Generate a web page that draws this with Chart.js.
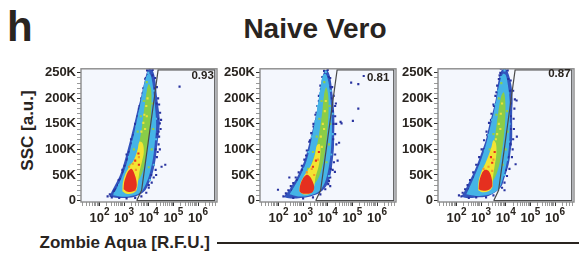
<!DOCTYPE html>
<html>
<head>
<meta charset="utf-8">
<script src="https://cdn.jsdelivr.net/npm/chart.js@4.4.0/dist/chart.umd.min.js"></script>
<style>
    html, body { margin: 0; padding: 0; background: #fff; }
    body { width: 579px; height: 254px; position: relative; overflow: hidden;
           font-family: "Liberation Sans", Arial, sans-serif; font-weight: bold; color: #29241f; }
    .txt { position: absolute; line-height: 1; white-space: nowrap; }
    canvas { position: absolute; top: 60px; }
</style>
</head>
<body>
<div class="txt" style="left:7px;top:6px;font-size:42px">h</div>
<div class="txt" style="left:315px;top:14.6px;font-size:28px;transform:translateX(-50%)">Naive Vero</div>
<div class="txt" style="left:-33.3px;top:121.5px;width:120px;text-align:center;font-size:17px;transform:rotate(-90deg)">SSC [a.u.]</div>
<div class="txt" style="left:39.5px;top:234px;font-size:17px">Zombie Aqua [R.F.U.]</div>
<div style="position:absolute;left:217px;top:241.6px;width:362px;height:2.3px;background:#29241f"></div>

<canvas id="panel1" width="184" height="170" style="left:37px"></canvas>
<canvas id="panel2" width="184" height="170" style="left:216px"></canvas>
<canvas id="panel3" width="184" height="170" style="left:394px"></canvas>

<script>
// points are [log10 Zombie Aqua (R.F.U.), SSC in thousands]
const decades = [2, 3, 4, 5, 6];
const sscTicks = [0, 50, 100, 150, 200, 250];
const sscTickLabels = ["0", "50K", "100K", "150K", "200K", "250K"];
const gateFractions = ["0.93", "0.81", "0.87"];
const gateLabelAt = [[6.64, 238], [6.5, 235], [6.63, 241]];
const liveGate = [[3.51, -0.5], [3.71, 20], [4.38, 256], [6.68, 256], [6.68, -0.5], [3.51, -0.5]];

// panel 1 - density contours
const p1Blue = [[2.4,7],[2.5,18],[2.65,32],[2.85,52],[3.02,78],[3.16,103],[3.3,129],[3.43,154],[3.56,180],[3.7,205],[3.82,231],[3.95,254],[4.08,258],[4.2,250],[4.28,231],[4.33,205],[4.4,180],[4.45,154],[4.4,129],[4.33,103],[4.27,78],[4.15,52],[4.0,33],[3.8,17],[3.4,7],[2.9,5]];
const p1Cyan = [[2.55,10],[2.7,24],[2.9,45],[3.1,72],[3.25,100],[3.4,130],[3.53,160],[3.66,190],[3.78,220],[3.92,245],[4.05,248],[4.15,230],[4.22,200],[4.28,170],[4.3,145],[4.25,115],[4.18,85],[4.05,55],[3.88,32],[3.65,15],[3.2,8],[2.8,8]];
const p1Green = [[3.2,45],[3.45,80],[3.62,115],[3.74,150],[3.83,185],[3.92,215],[4.0,228],[4.1,215],[4.1,180],[4.05,145],[3.98,110],[3.85,75],[3.65,45],[3.4,35]];
const p1Yellow = [[2.93,18],[2.95,35],[3.05,52],[3.22,66],[3.4,80],[3.55,100],[3.62,115],[3.75,112],[3.8,95],[3.72,75],[3.62,55],[3.56,35],[3.5,20],[3.35,14],[3.1,13]];
const p1Red = [[2.98,22],[3.0,35],[3.08,48],[3.18,58],[3.3,62],[3.42,52],[3.5,38],[3.5,25],[3.38,18],[3.15,17]];
// panel 1 - single events
const p1Navy = [[2.33,8],[2.42,12],[2.5,6],[2.58,17],[2.66,22],[2.75,30],[2.85,42],[2.95,55],[3.02,68],[3.12,80],[3.2,95],[3.3,112],[3.38,128],[3.47,145],[3.55,165],[3.63,185],[3.7,200],[3.78,220],[3.86,238],[3.93,255],[4.02,258],[4.16,256],[4.26,240],[4.33,222],[4.38,200],[4.42,188],[4.46,172],[4.5,158],[4.45,151],[4.48,140],[4.42,125],[4.4,110],[4.36,95],[4.33,85],[4.52,66],[4.67,70],[4.28,60],[4.2,45],[4.12,35],[4.0,25],[3.9,15],[3.7,8],[3.45,5],[3.1,4],[2.8,5],[5.25,223],[4.4,135],[4.3,50],[4.45,100],
    [2.6,20],[2.78,40],[2.93,60],[3.1,90],[3.28,120],[3.45,150],[3.6,180],[3.75,210],[3.88,240],[4.0,30],[4.1,50],[4.2,70],[4.28,100],[4.35,130],[4.38,160],[4.32,190],[4.25,220],[4.15,245]];
const p1CyanSpecks = [[2.62,14],[2.8,30],[3.0,50],[3.2,85],[3.35,115],[3.5,145],[3.62,170],[3.75,200],[3.85,225],[3.98,250],[4.2,215],[4.3,160],[4.3,120],[4.2,70],[4.05,40]];
const p1GreenSpecks = [[3.1,40],[3.25,70],[3.4,100],[3.55,135],[3.68,165],[3.8,195],[3.92,232],[4.15,190],[4.18,140],[4.12,100],[4.0,65]];
const p1YellowSpecks = [[3.7,135],[3.78,152],[3.82,168],[3.9,185],[3.95,200],[3.85,140],[3.92,165]];
const p1OrangeSpecks = [[3.2,66],[3.35,72],[3.48,60],[3.6,85],[3.1,20],[3.45,20]];
const p1RedSpecks = [[3.45,78],[3.58,92],[3.6,70]];

// panel 2 - density contours
const p2Blue = [[2.2,7],[2.35,15],[2.55,30],[2.8,50],[3.05,78],[3.2,103],[3.33,128],[3.46,154],[3.58,180],[3.66,205],[3.74,230],[3.85,252],[3.96,256],[4.08,245],[4.14,230],[4.2,205],[4.25,180],[4.27,154],[4.26,128],[4.25,103],[4.2,78],[4.12,52],[4.0,33],[3.7,16],[3.3,8],[2.9,5],[2.5,4]];
const p2Cyan = [[2.45,12],[2.65,28],[2.9,50],[3.12,75],[3.28,105],[3.4,135],[3.52,165],[3.62,195],[3.7,220],[3.8,245],[3.92,248],[4.03,232],[4.1,205],[4.15,175],[4.17,145],[4.15,115],[4.1,85],[4.0,55],[3.85,32],[3.6,16],[3.2,9],[2.8,8]];
const p2Green = [[3.1,40],[3.35,72],[3.55,105],[3.68,140],[3.78,175],[3.86,210],[3.94,222],[4.02,205],[4.03,170],[3.98,135],[3.9,100],[3.78,68],[3.6,42],[3.35,30]];
const p2Yellow = [[2.85,18],[2.88,32],[3.0,45],[3.18,58],[3.35,72],[3.48,90],[3.56,108],[3.68,110],[3.7,90],[3.62,65],[3.5,45],[3.45,28],[3.3,14],[3.0,12]];
const p2Red = [[2.85,18],[2.88,30],[2.98,42],[3.12,50],[3.25,48],[3.38,38],[3.45,25],[3.35,15],[3.1,13],[2.95,14]];
// panel 2 - single events
const p2Navy = [[1.98,21],[2.44,45],[2.2,8],[2.3,14],[2.4,20],[2.5,28],[2.6,34],[2.7,45],[2.82,55],[2.95,68],[3.05,80],[3.15,98],[3.25,115],[3.33,132],[3.42,150],[3.5,168],[3.58,185],[3.64,205],[3.7,225],[3.78,242],[3.85,254],[4.0,256],[4.1,240],[4.18,222],[4.24,205],[4.3,185],[4.33,190],[4.3,165],[4.34,150],[4.3,130],[4.52,154],[4.46,113],[4.4,78],[4.29,56],[4.1,28],[4.35,110],[4.3,90],[4.25,75],[4.2,60],[4.1,45],[4.02,32],[3.9,22],[3.7,12],[3.4,6],[3.0,4],[2.6,5],[4.95,231],[5.24,228],[5.24,180],[5.02,156],[4.56,151],[5.46,244],
    [2.55,20],[2.75,40],[2.95,60],[3.12,88],[3.28,118],[3.42,145],[3.54,172],[3.64,195],[3.72,218],[3.82,240],[4.05,38],[4.12,62],[4.18,90],[4.22,120],[4.24,150],[4.2,175],[4.15,200],[4.1,222],[4.03,242]];
const p2CyanSpecks = [[2.6,16],[2.85,38],[3.05,62],[3.22,95],[3.36,125],[3.5,155],[3.6,185],[3.7,210],[3.8,235],[3.92,252],[4.12,215],[4.2,170],[4.2,130],[4.15,90],[4.05,48]];
const p2GreenSpecks = [[3.0,38],[3.2,62],[3.4,95],[3.55,125],[3.66,160],[3.75,195],[3.86,232],[4.08,185],[4.1,150],[4.05,110],[3.95,75]];
const p2YellowSpecks = [[3.72,125],[3.8,150],[3.88,175],[3.92,195],[3.76,105],[3.85,140]];
const p2OrangeSpecks = [[3.15,55],[3.35,62],[3.45,50],[3.6,80],[3.0,18],[3.4,22]];
const p2RedSpecks = [[3.4,66],[3.52,78],[3.64,95]];

// panel 3 - density contours
const p3Blue = [[2.2,8],[2.35,20],[2.5,35],[2.75,60],[3.0,92],[3.2,120],[3.33,148],[3.47,173],[3.6,200],[3.68,228],[3.82,254],[3.97,259],[4.08,252],[4.22,228],[4.28,200],[4.26,173],[4.26,148],[4.26,122],[4.2,97],[4.12,71],[3.95,45],[3.8,26],[3.3,9],[2.8,6],[2.4,5]];
const p3Cyan = [[2.4,12],[2.55,28],[2.75,50],[3.0,80],[3.2,110],[3.35,140],[3.5,170],[3.63,200],[3.74,228],[3.88,248],[4.0,246],[4.1,222],[4.16,195],[4.17,165],[4.16,135],[4.12,100],[4.02,70],[3.88,42],[3.7,22],[3.3,11],[2.8,9]];
const p3Green = [[3.05,40],[3.3,75],[3.5,110],[3.62,145],[3.72,180],[3.82,205],[3.92,212],[3.98,195],[3.98,160],[3.92,125],[3.82,90],[3.68,60],[3.5,40],[3.25,32]];
const p3Yellow = [[2.88,20],[2.9,38],[3.0,55],[3.15,70],[3.3,88],[3.42,105],[3.5,118],[3.6,112],[3.62,92],[3.55,68],[3.48,45],[3.45,26],[3.3,18],[3.05,16]];
const p3Red = [[2.9,22],[2.93,38],[3.02,52],[3.15,60],[3.3,58],[3.42,45],[3.45,30],[3.35,22],[3.1,19]];
// panel 3 - single events
const p3Navy = [[2.1,10],[2.2,8],[2.25,15],[2.35,22],[2.45,30],[2.55,40],[2.68,55],[2.8,70],[2.92,85],[3.02,100],[3.12,118],[3.22,135],[3.32,152],[3.42,170],[3.5,188],[3.58,205],[3.65,225],[3.75,245],[3.8,258],[3.95,260],[4.08,255],[4.2,235],[4.3,215],[4.37,198],[4.44,196],[4.35,180],[4.32,160],[4.33,140],[4.3,120],[4.28,100],[4.25,85],[4.4,71],[4.15,62],[4.05,48],[3.95,35],[3.95,20],[3.85,25],[3.5,10],[3.2,6],[2.8,6],[2.5,5],[3.78,250],[4.45,125],[4.2,110],
    [2.5,22],[2.7,45],[2.9,70],[3.1,100],[3.25,128],[3.4,158],[3.52,185],[3.62,212],[3.72,238],[3.85,45],[4.0,60],[4.1,85],[4.18,112],[4.2,140],[4.2,165],[4.2,190],[4.18,215],[4.1,238]];
const p3CyanSpecks = [[2.55,18],[2.75,38],[2.95,68],[3.15,98],[3.3,128],[3.45,158],[3.58,188],[3.7,215],[3.82,242],[3.95,255],[4.1,210],[4.15,150],[4.12,115],[4.05,80],[3.95,50]];
const p3GreenSpecks = [[2.95,40],[3.15,68],[3.35,100],[3.5,130],[3.62,168],[3.72,200],[3.82,230],[4.05,175],[4.08,135],[4.0,100],[3.88,70]];
const p3YellowSpecks = [[3.65,130],[3.72,150],[3.8,170],[3.85,190],[3.6,120],[3.78,140]];
const p3OrangeSpecks = [[3.1,62],[3.3,66],[3.45,58],[3.5,80],[3.0,22],[3.42,28]];
const p3RedSpecks = [[3.45,74],[3.55,95],[3.4,85]];

const ink = "#29241f";
const fontFamily = '"Liberation Sans", Arial, sans-serif';

function toXY(points) {
    return points.map(p => ({ x: Math.pow(10, p[0]), y: p[1] }));
}
function closed(points) {
    return toXY(points.concat([points[0]]));
}
function isDecade(v) {
    let l = Math.log10(v);
    return Math.abs(l - Math.round(l)) < 1e-6;
}

function contour(points, color, order) {
    return {
        type: "line",
        data: closed(points),
        backgroundColor: color,
        borderColor: "rgba(0,0,0,0)",
        borderWidth: 0,
        pointRadius: 0,
        fill: "shape",
        tension: 0.35,
        order: order
    };
}

function events(points, color, order) {
    return {
        type: "scatter",
        data: toXY(points),
        pointStyle: "rect",
        pointRadius: 1.5,
        backgroundColor: color,
        borderWidth: 0,
        order: order
    };
}

const panelDecor = {
    id: "panelDecor",
    beforeDatasetsDraw(chart) {
        const { ctx, chartArea } = chart;
        ctx.save();
        ctx.fillStyle = "#f4f7fd";
        ctx.fillRect(chartArea.left, chartArea.top, chartArea.width, chartArea.height);
        ctx.restore();
    },
    afterDatasetsDraw(chart, args, opts) {
        const { ctx, chartArea, scales } = chart;
        ctx.save();
        ctx.strokeStyle = "#8a8a8a";
        ctx.lineWidth = 1.4;
        ctx.strokeRect(chartArea.left, chartArea.top, chartArea.width, chartArea.height);

        ctx.fillStyle = ink;
        ctx.font = "bold 11.5px " + fontFamily;
        ctx.textAlign = "right";
        ctx.textBaseline = "alphabetic";
        ctx.fillText(opts.fraction,
            scales.x.getPixelForValue(Math.pow(10, opts.labelAt[0])),
            scales.y.getPixelForValue(opts.labelAt[1]));
        ctx.restore();
    },
    afterDraw(chart) {
        const { ctx, chartArea, scales } = chart;
        ctx.save();
        ctx.fillStyle = ink;
        ctx.textAlign = "left";
        ctx.textBaseline = "alphabetic";
        decades.forEach(function (e) {
            let px = scales.x.getPixelForValue(Math.pow(10, e));
            ctx.font = "bold 13px " + fontFamily;
            let wBase = ctx.measureText("10").width;
            ctx.font = "bold 10px " + fontFamily;
            let wExp = ctx.measureText(String(e)).width;
            let left = px - (wBase + wExp) / 2;
            ctx.font = "bold 13px " + fontFamily;
            ctx.fillText("10", left, chartArea.bottom + 20);
            ctx.font = "bold 10px " + fontFamily;
            ctx.fillText(String(e), left + wBase, chartArea.bottom + 13);
        });
        ctx.restore();
    }
};

function makePanel(canvasId, p, fraction, labelAt) {
    let context = document.getElementById(canvasId).getContext("2d");
    return new Chart(context, {
        type: "scatter",
        data: {
            datasets: [
                {
                    type: "line",
                    data: toXY(liveGate),
                    borderColor: "#4a4a4a",
                    borderWidth: 1.2,
                    pointRadius: 0,
                    fill: false,
                    tension: 0,
                    order: 0
                },
                events(p.redSpecks, "#e5301f", 1.5),
                contour(p.red, "#e5301f", 2),
                events(p.orangeSpecks, "#f29a2a", 2.5),
                contour(p.yellow, "#f3e433", 3),
                events(p.yellowSpecks, "#eee23a", 3.5),
                contour(p.green, "#8acd48", 4),
                events(p.greenSpecks, "#8fd04c", 4.5),
                contour(p.cyan, "#45b4e6", 5),
                events(p.cyanSpecks, "#52bdea", 5.5),
                events(p.navy, "#28339f", 6),
                contour(p.blue, "#3254bd", 7)
            ]
        },
        options: {
            responsive: false,
            animation: false,
            events: [],
            layout: { padding: { top: 6, right: 2, left: 0, bottom: 0 } },
            plugins: {
                legend: { display: false },
                tooltip: { enabled: false },
                panelDecor: { fraction: fraction, labelAt: labelAt }
            },
            scales: {
                x: {
                    type: "logarithmic",
                    min: Math.pow(10, 1.25),
                    max: Math.pow(10, 6.77),
                    afterBuildTicks: function (scale) {
                        let ticks = [];
                        for (let e = 1; e <= 6; e++) {
                            for (let m = 1; m <= 9; m++) {
                                let v = m * Math.pow(10, e);
                                if (v >= scale.min && v <= scale.max) ticks.push({ value: v });
                            }
                        }
                        scale.ticks = ticks;
                    },
                    afterFit: function (scale) { scale.height = 28; },
                    ticks: { display: false },
                    border: { display: false },
                    grid: {
                        drawOnChartArea: false,
                        drawTicks: true,
                        tickLength: 4,
                        tickWidth: 1,
                        tickColor: ctx => (ctx.tick && isDecade(ctx.tick.value)) ? "#333" : "#999"
                    }
                },
                y: {
                    type: "linear",
                    min: -3,
                    max: 258,
                    afterBuildTicks: function (scale) {
                        let ticks = [];
                        for (let v = 0; v <= 250; v += 10) ticks.push({ value: v });
                        scale.ticks = ticks;
                    },
                    afterFit: function (scale) { scale.width = 44; },
                    ticks: {
                        autoSkip: false,
                        padding: 1,
                        color: ink,
                        font: { family: fontFamily, size: 13, weight: "bold" },
                        callback: function (value) {
                            let i = sscTicks.indexOf(value);
                            return i >= 0 ? sscTickLabels[i] : "";
                        }
                    },
                    border: { display: false },
                    grid: {
                        drawOnChartArea: false,
                        drawTicks: true,
                        tickLength: 4,
                        tickWidth: 1,
                        tickColor: ctx => (ctx.tick && sscTicks.indexOf(ctx.tick.value) >= 0) ? "#333" : "#999"
                    }
                }
            }
        },
        plugins: [panelDecor]
    });
}

makePanel("panel1", { blue: p1Blue, cyan: p1Cyan, green: p1Green, yellow: p1Yellow, red: p1Red,
    navy: p1Navy, cyanSpecks: p1CyanSpecks, greenSpecks: p1GreenSpecks, yellowSpecks: p1YellowSpecks,
    orangeSpecks: p1OrangeSpecks, redSpecks: p1RedSpecks }, gateFractions[0], gateLabelAt[0]);
makePanel("panel2", { blue: p2Blue, cyan: p2Cyan, green: p2Green, yellow: p2Yellow, red: p2Red,
    navy: p2Navy, cyanSpecks: p2CyanSpecks, greenSpecks: p2GreenSpecks, yellowSpecks: p2YellowSpecks,
    orangeSpecks: p2OrangeSpecks, redSpecks: p2RedSpecks }, gateFractions[1], gateLabelAt[1]);
makePanel("panel3", { blue: p3Blue, cyan: p3Cyan, green: p3Green, yellow: p3Yellow, red: p3Red,
    navy: p3Navy, cyanSpecks: p3CyanSpecks, greenSpecks: p3GreenSpecks, yellowSpecks: p3YellowSpecks,
    orangeSpecks: p3OrangeSpecks, redSpecks: p3RedSpecks }, gateFractions[2], gateLabelAt[2]);
</script>
</body>
</html>
